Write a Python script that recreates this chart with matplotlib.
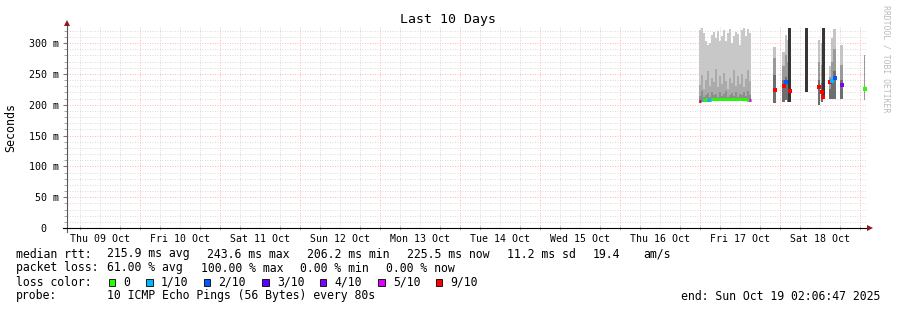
import numpy as np
import matplotlib.pyplot as plt
from matplotlib.patches import Rectangle

W, H = 897, 310
T0, T1 = 2.11, 242.11   # hours after Thu 09 Oct 00:00
YMAX = 326
MONO = 'DejaVu Sans Mono'

days = ['Thu 09 Oct', 'Fri 10 Oct', 'Sat 11 Oct', 'Sun 12 Oct', 'Mon 13 Oct',
        'Tue 14 Oct', 'Wed 15 Oct', 'Thu 16 Oct', 'Fri 17 Oct', 'Sat 18 Oct']
yticks = [0, 50, 100, 150, 200, 250, 300]
ylabels = ['0  ', '50 m', '100 m', '150 m', '200 m', '250 m', '300 m']

# dense block on Fri 17 Oct (ms)
b1_t = [192.0, 192.6, 193.2, 193.8, 194.4, 195.0, 195.6, 196.2, 196.8, 197.4, 198.0, 198.6, 199.2,
        199.8, 200.4, 201.0, 201.6, 202.2, 202.8, 203.4, 204.0, 204.6, 205.2, 205.8, 206.4, 207.0]
b1_max = [321, 324, 316, 304, 297, 300, 313, 318, 308, 319, 304, 312, 321,
          303, 316, 322, 300, 311, 318, 314, 297, 321, 324, 312, 322, 317]
b1_upper = [232, 248, 226, 240, 254, 230, 243, 236, 258, 228, 246, 233, 252,
            238, 226, 244, 235, 256, 230, 247, 234, 250, 228, 242, 256, 238]
b1_inner = [214, 222, 212, 216, 219, 213, 221, 215, 218, 212, 220, 214, 217,
            222, 213, 216, 219, 214, 221, 213, 218, 215, 220, 214, 222, 216]
b1_med = [206, 208, 208, 209, 208, 208, 209, 209, 209, 209, 209, 209, 209,
          209, 209, 209, 209, 209, 209, 209, 209, 209, 209, 209, 208, 207]
b1_min = [203, 204, 205, 205, 205, 205, 206, 206, 206, 206, 206, 206, 206,
          206, 206, 206, 206, 206, 206, 206, 206, 206, 206, 206, 205, 204]
b1_loss = [9, 1, 0, 0, 1, 1, 0, 0, 0, 0, 0, 0, 0,
           0, 0, 0, 0, 0, 0, 0, 0, 0, 0, 0, 0, 5]

# scattered samples on Sat 18 Oct
sp_t = [214.4, 217.2, 217.8, 218.3, 218.9, 224.1, 227.7, 228.5, 229.0, 230.9, 231.6, 232.4, 234.5, 241.5]
sp_dur = [1.0, 0.9, 0.6, 0.6, 0.9, 0.9, 0.6, 0.6, 0.9, 0.6, 0.6, 0.9, 1.0, 0.3]
sp_max = [293, 285, 313, 305, 324, 324, 305, 300, 324, 263, 308, 322, 297, 280]
sp_upper = [275, 262, 280, 270, 324, 324, 270, 265, 324, 245, 270, 290, 265, 280]
sp_inner = [248, 240, 245, 240, 324, 324, 240, 235, 324, 225, 240, 255, 240, 208]
sp_min = [203, 204, 207, 204, 204, 220, 200, 205, 211, 209, 209, 209, 209, 208]
sp_med = [224, 231, 237, np.nan, 222, np.nan, 229, 221, 213, 236, 239, 244, 232, 225]
sp_loss = [9, 9, 2, 0, 9, 9, 9, 9, 9, 9, 1, 2, 4, 0]
sp_solid = [False, False, False, False, True, True, False, False, True, False, False, False, False, False]

loss_keys = [0, 1, 2, 3, 4, 5, 9]
loss_names = ['0', '1/10', '2/10', '3/10', '4/10', '5/10', '9/10']
loss_colors = ['#26ff00', '#00b8ff', '#0059ff', '#5e00ff', '#7e00ff', '#dd00ff', '#ff0000']
lcol = dict(zip(loss_keys, loss_colors))

rtt_stats = ['215.9 ms avg', '243.6 ms max', '206.2 ms min', '225.5 ms now', '11.2 ms sd', '19.4', 'am/s']
loss_stats = ['61.00 % avg', '100.00 % max', '0.00 % min', '0.00 % now']
probe = '10 ICMP Echo Pings (56 Bytes) every 80s'
end_txt = 'end: Sun Oct 19 02:06:47 2025'

fig = plt.figure(figsize=(W / 100, H / 100), dpi=100)
ax = fig.add_axes([67 / W, 1 - 228 / H, 800 / W, 201 / H])
ax.set_xlim(T0, T1)
ax.set_ylim(0, YMAX)
for s in ax.spines.values():
    s.set_visible(False)

# grid
for y in range(10, YMAX, 10):
    c = '#ff9c9c' if y % 50 == 0 else '#cfcfcf'
    ax.axhline(y, color=c, lw=0.6, ls=(0, (1, 2)), zorder=0)
for t in range(6, 242, 6):
    c = '#ff9c9c' if t % 24 == 0 else '#cfcfcf'
    ax.axvline(t, color=c, lw=0.6, ls=(0, (1, 2)), zorder=0)

# smoke, block 1
b1_t = np.array(b1_t)
w1 = 0.6
ax.bar(b1_t, np.subtract(b1_max, b1_min), bottom=b1_min, width=w1, color='#c8c8c8', lw=0, zorder=2)
ax.bar(b1_t, np.subtract(b1_upper, b1_min), bottom=b1_min, width=w1, color='#aaaaaa', lw=0, zorder=3)
ax.bar(b1_t, np.subtract(b1_inner, b1_min), bottom=b1_min, width=w1, color='#8e8e8e', lw=0, zorder=4)
ax.hlines(b1_med, b1_t - w1 / 2, b1_t + w1 / 2, colors=[lcol[k] for k in b1_loss], lw=2.2, zorder=6)

# smoke, scattered
for t, d, mx, up, inn, mn, md, ls, solid in zip(sp_t, sp_dur, sp_max, sp_upper, sp_inner,
                                                 sp_min, sp_med, sp_loss, sp_solid):
    if solid:
        ax.bar(t, mx - mn, bottom=mn, width=d, color='#363636', lw=0, zorder=5)
    else:
        ax.bar(t, mx - mn, bottom=mn, width=d, color='#c4c4c4', lw=0, zorder=2)
        ax.bar(t, up - mn, bottom=mn, width=d, color='#9a9a9a', lw=0, zorder=3)
        ax.bar(t, inn - mn, bottom=mn, width=d, color='#6e6e6e', lw=0, zorder=4)
    if not np.isnan(md):
        ax.plot(t, md, 's', ms=2.6, mew=0, color=lcol[ls], zorder=7)

# ticks
ax.set_yticks(yticks)
ax.set_yticklabels(ylabels, family=MONO, fontsize=7.2)
ax.set_yticks(range(10, YMAX, 10), minor=True)
ax.tick_params(axis='y', which='major', length=3, color='#777777', pad=3)
ax.tick_params(axis='y', which='minor', length=2, color='#999999')
ax.set_xticks([24 * i + 12 for i in range(len(days))])
ax.set_xticklabels(days, family=MONO, fontsize=7.1)
ax.tick_params(axis='x', which='major', length=0, pad=4.5)
ax.set_xticks(range(6, 242, 6), minor=True)
ax.tick_params(axis='x', which='minor', length=2.5, color='#aaaaaa', direction='inout')

# overlay in pixel coords
ov = fig.add_axes([0, 0, 1, 1])
ov.set_xlim(0, W)
ov.set_ylim(H, 0)
ov.axis('off')
ov.plot([67, 67], [232, 24], color='#555555', lw=0.8)
ov.plot([63, 869], [228, 228], color='#000000', lw=0.8)
ov.plot(67, 23, '^', ms=4, color='#8b1a1a', mew=0)
ov.plot(870, 228, '>', ms=4, color='#8b1a1a', mew=0)

ov.text(448, 19, 'Last 10 Days', family=MONO, fontsize=9.5, ha='center', va='center')
ov.text(11, 127, 'Seconds', family=MONO, fontsize=8.4, rotation=90, ha='center', va='center')
ov.text(886, 59, 'RRDTOOL / TOBI OETIKER', family=MONO, fontsize=5.9, rotation=270,
        ha='center', va='center', color='#bbbbbb')

fs = 8.3
ly = [254, 268, 282, 296]
ov.text(16, ly[0], 'median rtt:', family=MONO, fontsize=fs, va='center')
for x, s in zip([107, 207, 307, 407, 507, 593, 643], rtt_stats):
    ov.text(x, ly[0], s, family=MONO, fontsize=fs, va='center')
ov.text(16, ly[1], 'packet loss:', family=MONO, fontsize=fs, va='center')
for x, s in zip([107, 201, 300, 386], loss_stats):
    ov.text(x, ly[1], s, family=MONO, fontsize=fs, va='center')
ov.text(16, ly[2], 'loss color:', family=MONO, fontsize=fs, va='center')
for x, s, c in zip([108.5, 146, 203.5, 262, 319.5, 378, 435.5], loss_names, loss_colors):
    ov.add_patch(Rectangle((x, 278.5), 6.5, 7.5, facecolor=c, edgecolor='#000000', lw=0.6))
    ov.text(x + 15, ly[2], s, family=MONO, fontsize=fs, va='center')
ov.text(16, ly[3], 'probe:', family=MONO, fontsize=fs, va='center')
ov.text(107, ly[3], probe, family=MONO, fontsize=fs, va='center')
ov.text(880, ly[3], end_txt, family=MONO, fontsize=fs, va='center', ha='right')

fig.savefig('out.png', dpi=100)
